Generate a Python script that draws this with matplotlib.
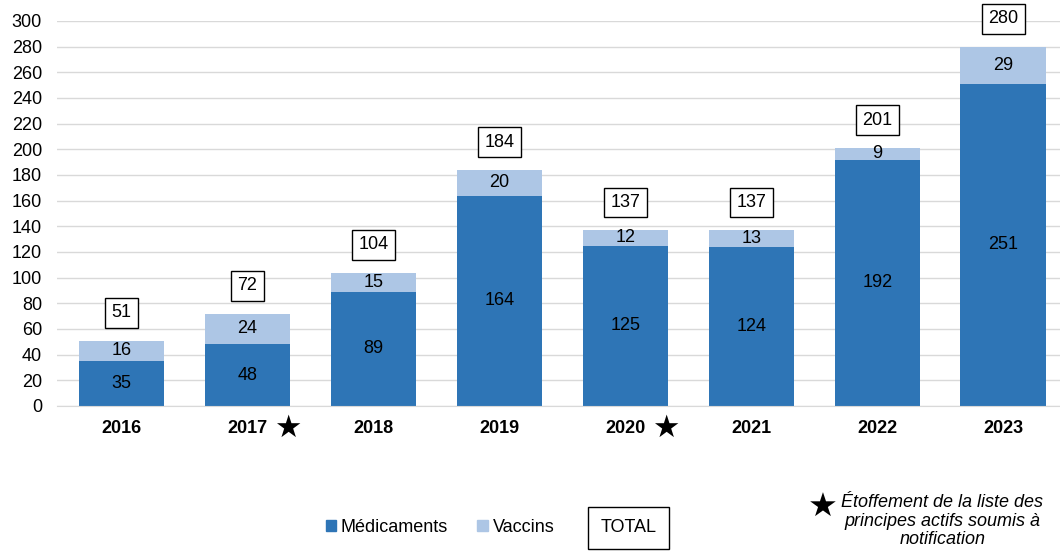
import matplotlib.pyplot as plt
from matplotlib.patches import Patch

plt.rcParams['font.family'] = ['Liberation Sans', 'DejaVu Sans']

years = ['2016', '2017', '2018', '2019', '2020', '2021', '2022', '2023']
medicaments = [35, 48, 89, 164, 125, 124, 192, 251]
vaccins = [16, 24, 15, 20, 12, 13, 9, 29]
totals = [51, 72, 104, 184, 137, 137, 201, 280]
starred = ['2017', '2020']

dark = '#2e75b6'
light = '#adc6e5'
fs = 13

fig = plt.figure(figsize=(10.6, 5.52), dpi=100)
ax = fig.add_axes([0.054, 0.2645, 0.946, 0.6975])

x = range(len(years))
ax.bar(x, medicaments, width=0.68, color=dark, zorder=2)
ax.bar(x, vaccins, width=0.68, bottom=medicaments, color=light, zorder=2)

for i in x:
    ax.text(i, medicaments[i] / 2, str(medicaments[i]), ha='center', va='center', fontsize=fs)
    ax.text(i, medicaments[i] + vaccins[i] / 2, str(vaccins[i]), ha='center', va='center', fontsize=fs)
    ax.annotate(str(totals[i]), (i, totals[i]), xytext=(0, 20), textcoords='offset points',
                ha='center', va='center', fontsize=fs, annotation_clip=False,
                bbox=dict(boxstyle='square,pad=0.35', fc='white', ec='black', lw=1))

ax.set_ylim(0, 300)
ax.set_xlim(-0.51, 7.45)
ax.set_yticks(range(0, 301, 20))
ax.set_xticks(list(x))
ax.set_xticklabels(years, fontweight='bold', fontsize=fs)
ax.tick_params(axis='y', labelsize=fs, length=0, pad=11)
ax.tick_params(axis='x', length=0, pad=10)
ax.grid(axis='y', color='#d9d9d9', lw=1, zorder=0)
for s in ['top', 'right', 'left']:
    ax.spines[s].set_visible(False)
ax.spines['bottom'].set_color('#d9d9d9')

for y in starred:
    i = years.index(y)
    ax.annotate('★', (i, 0), xytext=(29, -16), textcoords='offset points',
                ha='center', va='center', fontsize=22, family=['DejaVu Sans'],
                annotation_clip=False)

handles = [Patch(color=dark, label='Médicaments'), Patch(color=light, label='Vaccins')]
fig.legend(handles=handles, loc='center', bbox_to_anchor=(0.415, 0.045), ncol=2,
           frameon=False, fontsize=fs, handlelength=0.6, handleheight=0.6,
           handletextpad=0.25, columnspacing=1.6)
fig.text(0.593, 0.044, 'TOTAL', ha='center', va='center', fontsize=fs,
         bbox=dict(boxstyle='square,pad=0.7', fc='white', ec='black', lw=1))

fig.text(0.776, 0.081, '★', ha='center', va='center', fontsize=24, family=['DejaVu Sans'])
fig.text(0.889, 0.056, 'Étoffement de la liste des\nprincipes actifs soumis à\nnotification',
         ha='center', va='center', fontsize=fs, style='italic', linespacing=1.1)

fig.savefig('out.png', dpi=100)
